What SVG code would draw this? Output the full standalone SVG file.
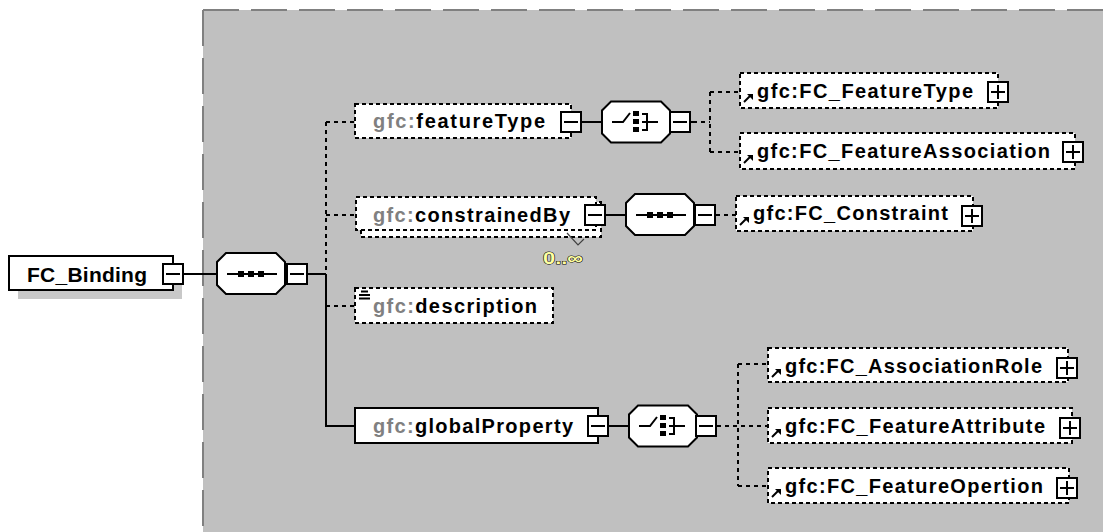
<svg xmlns="http://www.w3.org/2000/svg" width="1103" height="532" viewBox="0 0 1103 532">
<style>
text{font-family:"Liberation Sans",Arial,sans-serif;font-weight:bold;font-size:20px;fill:#000}
.pre{fill:#808080}
.box{fill:#fff;stroke:#000;stroke-width:2}
.dbox{fill:#fff;stroke:#000;stroke-width:2;stroke-dasharray:4 3}
.ln{stroke:#000;stroke-width:2;fill:none}
.dl{stroke:#000;stroke-width:2;fill:none;stroke-dasharray:4 4}
.btn{fill:#fff;stroke:#000;stroke-width:2}
.oct{fill:#fff;stroke:#000;stroke-width:2}
.occ{font-size:17px;fill:#ffffa0;stroke:#000;stroke-width:1;paint-order:stroke}
</style>
<defs>
<polygon id="oct" class="oct" points="-25,-20.5 25,-20.5 34,-11.5 34,11.5 25,20.5 -25,20.5 -34,11.5 -34,-11.5"/>
<g id="seqIcon">
<line class="ln" x1="-24" y1="0" x2="26" y2="0"/>
<rect x="-13" y="-3" width="6" height="6" fill="#000"/>
<rect x="-3" y="-3" width="6" height="6" fill="#000"/>
<rect x="7" y="-3" width="6" height="6" fill="#000"/>
</g>
<g id="choiceIcon">
<polyline class="ln" points="-24,0 -13,0 -6,-9"/>
<rect x="-3" y="-11" width="6" height="5" fill="#000"/>
<rect x="-3" y="-3" width="6" height="5" fill="#000"/>
<rect x="-3" y="5" width="6" height="5" fill="#000"/>
<polyline class="ln" points="6,-8 11,-8 11,8 6,8"/>
<line class="ln" x1="6" y1="0" x2="22" y2="0"/>
</g>
<g id="minus">
<rect class="btn" x="0" y="0" width="20" height="20"/>
<line class="ln" x1="3" y1="10" x2="17" y2="10"/>
</g>
<g id="plus">
<rect class="btn" x="0" y="0" width="20" height="20"/>
<line class="ln" x1="3" y1="10" x2="17" y2="10"/>
<line class="ln" x1="10" y1="3" x2="10" y2="17"/>
</g>
<g id="refArrow">
<line class="ln" x1="1" y1="8" x2="7" y2="2"/>
<polygon points="4,0 10,0 10,6" fill="#000"/>
</g>
</defs>

<g id="panel">
<rect x="203" y="10" width="910" height="530" fill="#c0c0c0"/>
<line x1="203" y1="10" x2="1103" y2="10" stroke="#808080" stroke-width="2" stroke-dasharray="36 12"/>
<line x1="203" y1="10" x2="203" y2="532" stroke="#808080" stroke-width="2" stroke-dasharray="36 12"/>
</g>

<g id="connectors">
<line class="ln" x1="183" y1="274" x2="217" y2="274"/>
<line class="ln" x1="307" y1="274" x2="326" y2="274"/>
<line class="dl" x1="326" y1="122" x2="326" y2="274"/>
<line class="ln" x1="326" y1="274" x2="326" y2="427"/>
<line class="dl" x1="326" y1="122" x2="355" y2="122"/>
<line class="dl" x1="326" y1="215" x2="355" y2="215"/>
<line class="dl" x1="326" y1="306" x2="355" y2="306"/>
<line class="ln" x1="326" y1="426" x2="355" y2="426"/>
<line class="ln" x1="581" y1="122" x2="603" y2="122"/>
<line class="ln" x1="690" y1="122" x2="697" y2="122"/>
<line class="dl" x1="701" y1="122" x2="710" y2="122"/>
<line class="dl" x1="710" y1="92" x2="710" y2="152"/>
<line class="dl" x1="710" y1="92" x2="740" y2="92"/>
<line class="dl" x1="710" y1="152" x2="740" y2="152"/>
<line class="ln" x1="605" y1="215" x2="627" y2="215"/>
<line class="ln" x1="715" y1="215" x2="720" y2="215"/>
<line class="dl" x1="724" y1="215" x2="736" y2="215"/>
<line class="ln" x1="608" y1="426" x2="630" y2="426"/>
<line class="ln" x1="716" y1="426" x2="721" y2="426"/>
<line class="dl" x1="725" y1="426" x2="768" y2="426"/>
<line class="dl" x1="738" y1="364" x2="738" y2="486"/>
<line class="dl" x1="738" y1="364" x2="768" y2="364"/>
<line class="dl" x1="738" y1="486" x2="768" y2="486"/>
</g>

<g id="FC_Binding">
<rect x="18" y="265" width="164" height="34" fill="#c8c8c8"/>
<rect class="box" x="9" y="256" width="164" height="34"/>
<text x="27" y="282" textLength="120" lengthAdjust="spacing" style="font-size:21px">FC_Binding</text>
<use href="#minus" x="163" y="264"/>
</g>

<g id="sequence1">
<use href="#oct" x="251" y="273.5"/>
<use href="#seqIcon" x="251" y="274"/>
<use href="#minus" x="287" y="264"/>
</g>

<g id="featureType">
<rect class="dbox" x="355" y="104" width="216" height="34"/>
<text x="373" y="128" textLength="172" lengthAdjust="spacing"><tspan class="pre">gfc:</tspan>featureType</text>
<use href="#minus" x="561" y="112"/>
</g>

<g id="choice1">
<use href="#oct" x="636" y="122"/>
<use href="#choiceIcon" x="636" y="122"/>
<use href="#minus" x="670" y="112"/>
</g>

<g id="FC_FeatureType">
<rect class="dbox" x="740" y="73" width="258" height="35"/>
<use href="#refArrow" x="743" y="94"/>
<text x="757" y="98" textLength="216" lengthAdjust="spacing">gfc:FC_FeatureType</text>
<use href="#plus" x="988" y="82"/>
</g>

<g id="FC_FeatureAssociation">
<rect class="dbox" x="740" y="133" width="335" height="36"/>
<use href="#refArrow" x="743" y="155"/>
<text x="757" y="158" textLength="293" lengthAdjust="spacing">gfc:FC_FeatureAssociation</text>
<use href="#plus" x="1063" y="142"/>
</g>

<g id="constrainedBy">
<rect class="dbox" x="361" y="202" width="240" height="35"/>
<rect class="dbox" x="356" y="197" width="240" height="33"/>
<text x="373" y="222" textLength="197" lengthAdjust="spacing"><tspan class="pre">gfc:</tspan>constrainedBy</text>
<use href="#minus" x="585" y="205"/>
<polyline points="567,233 578,245 584,239" fill="none" stroke="#404040" stroke-width="1.2"/>
<text class="occ" x="543" y="264" textLength="40" lengthAdjust="spacingAndGlyphs">0..∞</text>
</g>

<g id="sequence2">
<use href="#oct" x="660" y="214.5"/>
<use href="#seqIcon" x="660" y="215"/>
<use href="#minus" x="695" y="205"/>
</g>

<g id="FC_Constraint">
<rect class="dbox" x="736" y="196" width="237" height="35"/>
<use href="#refArrow" x="739" y="217"/>
<text x="753" y="220" textLength="195" lengthAdjust="spacing">gfc:FC_Constraint</text>
<use href="#plus" x="962" y="206"/>
</g>

<g id="description">
<rect class="dbox" x="355" y="288" width="198" height="35"/>
<line class="ln" x1="361" y1="291.5" x2="368" y2="291.5" stroke-width="1.5"/>
<line class="ln" x1="359" y1="295" x2="370" y2="295" stroke-width="1.5"/>
<line class="ln" x1="359" y1="298.5" x2="370" y2="298.5" stroke-width="1.5"/>
<text x="373" y="313" textLength="164" lengthAdjust="spacing"><tspan class="pre">gfc:</tspan>description</text>
</g>

<g id="globalProperty">
<rect class="box" x="355" y="408" width="243" height="35"/>
<text x="373" y="433" textLength="200" lengthAdjust="spacing"><tspan class="pre">gfc:</tspan>globalProperty</text>
<use href="#minus" x="588" y="416"/>
</g>

<g id="choice2">
<use href="#oct" x="663" y="426"/>
<use href="#choiceIcon" x="663" y="426"/>
<use href="#minus" x="696" y="416"/>
</g>

<g id="FC_AssociationRole">
<rect class="dbox" x="768" y="348" width="300" height="34"/>
<use href="#refArrow" x="771" y="369"/>
<text x="785" y="373" textLength="257" lengthAdjust="spacing">gfc:FC_AssociationRole</text>
<use href="#plus" x="1057" y="358"/>
</g>

<g id="FC_FeatureAttribute">
<rect class="dbox" x="768" y="408" width="304" height="35"/>
<use href="#refArrow" x="771" y="429"/>
<text x="785" y="433" textLength="260" lengthAdjust="spacing">gfc:FC_FeatureAttribute</text>
<use href="#plus" x="1060" y="418"/>
</g>

<g id="FC_FeatureOpertion">
<rect class="dbox" x="768" y="468" width="301" height="35"/>
<use href="#refArrow" x="771" y="489"/>
<text x="785" y="493" textLength="258" lengthAdjust="spacing">gfc:FC_FeatureOpertion</text>
<use href="#plus" x="1057" y="478"/>
</g>
</svg>
